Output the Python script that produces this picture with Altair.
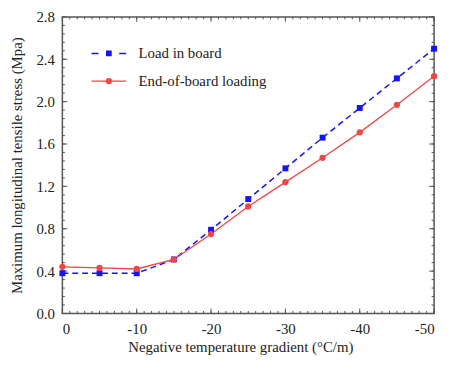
import altair as alt
import pandas as pd

gradient = [0, -5, -10, -15, -20, -25, -30, -35, -40, -45, -50]
load_in_board = [0.38, 0.38, 0.38, 0.51, 0.79, 1.08, 1.37, 1.66, 1.94, 2.22, 2.50]
end_of_board = [0.44, 0.43, 0.42, 0.51, 0.75, 1.01, 1.24, 1.47, 1.71, 1.97, 2.24]
series_names = ["Load in board", "End-of-board loading"]
series_colors = ["#1414ff", "#f04646"]

x_major = [0, -10, -20, -30, -40, -50]
x_minor = list(range(0, -51, -1))
y_major = [0.0, 0.4, 0.8, 1.2, 1.6, 2.0, 2.4, 2.8]
y_minor = [round(i * 0.08, 2) for i in range(36)]

W, H = 376, 300
FONT = "'Liberation Serif', 'Times New Roman', Times, serif"
FRAME = "#555555"
MAJOR, MINOR = 5, 2.5

df = pd.DataFrame({
    "x": gradient * 2,
    "y": load_in_board + end_of_board,
    "series": [series_names[0]] * len(gradient) + [series_names[1]] * len(gradient),
})

xscale = alt.Scale(domain=[-50, 0], reverse=True, nice=False, zero=False)
yscale = alt.Scale(domain=[0, 2.8], nice=False, zero=False)

main_x_axis = alt.Axis(
    orient="bottom", values=x_major, ticks=False, domain=False, grid=False,
    labelExpr="'' + datum.value", labelPadding=8,
    title="Negative temperature gradient (°C/m)", titleX=W / 2 - 8, titleY=33,
    titleBaseline="middle", titleAlign="center",
)
main_y_axis = alt.Axis(
    orient="left", values=y_major, ticks=False, domain=False, grid=False,
    format=".1f", labelPadding=8,
    title="Maximum longitudinal tensile stress (Mpa)", titleX=-46, titleY=H / 2,
    titleBaseline="middle", titleAlign="center", titleAngle=270,
)

base = alt.Chart(df)
blue = base.transform_filter(alt.datum.series == series_names[0])
red = base.transform_filter(alt.datum.series == series_names[1])

X = alt.X("x:Q", scale=xscale, axis=None)
Y = alt.Y("y:Q", scale=yscale, axis=None)

blue_line = blue.mark_line(color=series_colors[0], strokeWidth=1.5, strokeDash=[6, 4]).encode(
    x=alt.X("x:Q", scale=xscale, axis=main_x_axis),
    y=alt.Y("y:Q", scale=yscale, axis=main_y_axis),
)
blue_pts = blue.mark_point(shape="square", filled=True, size=36, opacity=1,
                           color=series_colors[0]).encode(x=X, y=Y)
red_line = red.mark_line(color=series_colors[1], strokeWidth=1.3).encode(x=X, y=Y)
red_pts = red.mark_point(shape="circle", filled=True, size=40, opacity=1,
                         color=series_colors[1]).encode(x=X, y=Y)

# inward tick marks on all four sides of the frame, placed by the shared scales
tick_layers = []
for vals, size in [(x_minor, MINOR), (x_major, MAJOR)]:
    tdf = pd.DataFrame({"x": vals})
    for y0, y1 in [(H, H - size), (0, size)]:
        tick_layers.append(
            alt.Chart(tdf).mark_rule(color=FRAME, strokeWidth=1).encode(
                x=X, y=alt.value(y0), y2=alt.value(y1))
        )
for vals, size in [(y_minor, MINOR), (y_major, MAJOR)]:
    tdf = pd.DataFrame({"y": vals})
    for x0, x1 in [(0, size), (W, W - size)]:
        tick_layers.append(
            alt.Chart(tdf).mark_rule(color=FRAME, strokeWidth=1).encode(
                y=Y, x=alt.value(x0), x2=alt.value(x1))
        )

path_dashed_square = "M-1.75,0H-1.05M1.05,0H1.75M-0.22,-0.22H0.22V0.22H-0.22Z"
path_solid_circle = ("M-1.75,0H1.75M-0.24,0A0.24,0.24,0,1,0,0.24,0"
                     "A0.24,0.24,0,1,0,-0.24,0Z")

leg = alt.Legend(orient="none", legendX=36, legendY=26, title=None,
                 symbolSize=400, symbolStrokeWidth=1.4, labelFontSize=15,
                 labelFont=FONT, labelColor="#222222", labelOffset=19,
                 rowPadding=9, symbolOpacity=1)

legend_layer = base.transform_filter("false").mark_point(filled=False).encode(
    x=X, y=Y,
    shape=alt.Shape("series:N", scale=alt.Scale(domain=series_names,
                    range=[path_dashed_square, path_solid_circle]), legend=leg),
    stroke=alt.Stroke("series:N", scale=alt.Scale(domain=series_names, range=series_colors),
                      legend=leg),
    fill=alt.Fill("series:N", scale=alt.Scale(domain=series_names, range=series_colors),
                  legend=leg),
)

chart = alt.layer(
    blue_line, *tick_layers, red_line, blue_pts, red_pts, legend_layer
).resolve_axis(x="independent", y="independent").properties(
    width=W, height=H,
    autosize=alt.AutoSizeParams(type="none"),
    padding={"left": 55, "top": 7, "right": 8, "bottom": 40},
).configure_view(
    stroke=FRAME, strokeWidth=1.5
).configure_axis(
    labelFont=FONT, titleFont=FONT, labelFontSize=15, titleFontSize=15,
    titleFontWeight="normal", labelColor="#222222", titleColor="#222222",
)

chart.save("out.html", embed_options={"renderer": "svg", "actions": False})
